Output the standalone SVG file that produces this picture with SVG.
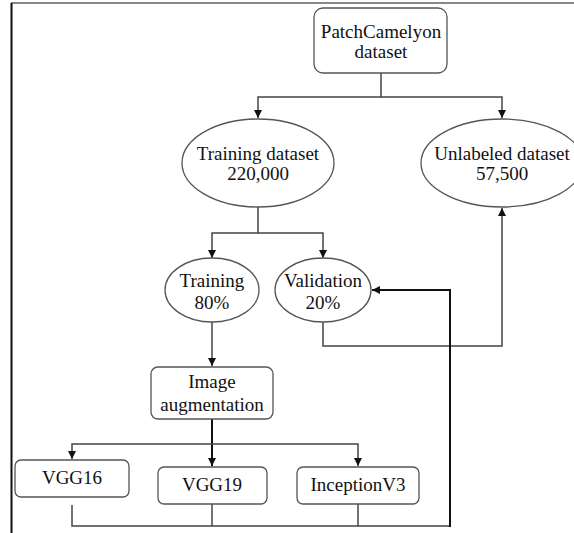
<svg xmlns="http://www.w3.org/2000/svg" width="574" height="533" viewBox="0 0 574 533">
  <defs>
    <marker id="arrow" viewBox="0 0 10 10" refX="10" refY="5" markerWidth="8" markerHeight="8" markerUnits="userSpaceOnUse" orient="auto">
      <path d="M0,0 L10,5 L0,10 Z" fill="#111"/>
    </marker>
    <clipPath id="page"><rect x="0" y="0" width="574" height="533"/></clipPath>
  </defs>
  <style>
    .box { fill: #fff; stroke: #555; stroke-width: 1.3; }
    .lbl { font-family: "Liberation Serif", "Times New Roman", serif; font-size: 19px; fill: #111; text-anchor: middle; }
    .edge { fill: none; stroke: #444; stroke-width: 1.5; }
    .edge-bold { fill: none; stroke: #111; stroke-width: 2; }
  </style>
  <rect x="0" y="0" width="574" height="533" fill="#fff"/>

  <!-- page frame -->
  <line x1="11" y1="3" x2="574" y2="3" stroke="#888" stroke-width="2"/>
  <line x1="11.5" y1="3" x2="11.5" y2="533" stroke="#111" stroke-width="2"/>

  <g id="connectors">
    <!-- dataset split -->
    <path class="edge" d="M381,73 V97 H258 V118" marker-end="url(#arrow)"/>
    <path class="edge" d="M381,97 H502 V118" marker-end="url(#arrow)"/>
    <!-- training / validation split -->
    <path class="edge" d="M258,207 V233 H212 V258" marker-end="url(#arrow)"/>
    <path class="edge" d="M258,233 H323 V258" marker-end="url(#arrow)"/>
    <!-- validation to unlabeled -->
    <path class="edge" d="M323,322 V346 H502 V208" marker-end="url(#arrow)"/>
    <!-- training to augmentation -->
    <path class="edge" d="M212,322 V366" marker-end="url(#arrow)"/>
    <!-- augmentation to models -->
    <path class="edge-bold" d="M212,419 V466" marker-end="url(#arrow)"/>
    <path class="edge" d="M212,444 H72 V459" marker-end="url(#arrow)"/>
    <path class="edge" d="M212,444 H358 V466" marker-end="url(#arrow)"/>
    <!-- models back to validation -->
    <path class="edge" d="M72,505 V526 H450"/>
    <path class="edge" d="M212,503 V526"/>
    <path class="edge" d="M358,503 V526"/>
    <path class="edge-bold" d="M450,527 V290 H372" marker-end="url(#arrow)"/>
  </g>

  <g id="patchcamelyon">
    <rect class="box" x="314" y="8" width="133" height="65" rx="9"/>
    <text class="lbl" x="381" y="38">PatchCamelyon</text>
    <text class="lbl" x="381" y="58">dataset</text>
  </g>

  <g id="training-dataset">
    <ellipse class="box" cx="258" cy="163" rx="76" ry="44"/>
    <text class="lbl" x="258" y="160">Training dataset</text>
    <text class="lbl" x="258" y="180">220,000</text>
  </g>

  <g id="unlabeled-dataset" clip-path="url(#page)">
    <ellipse class="box" cx="502" cy="163" rx="81" ry="44"/>
    <text class="lbl" x="502" y="160">Unlabeled dataset</text>
    <text class="lbl" x="502" y="180">57,500</text>
  </g>

  <g id="training">
    <ellipse class="box" cx="212" cy="290" rx="47" ry="32"/>
    <text class="lbl" x="212" y="287">Training</text>
    <text class="lbl" x="212" y="309">80%</text>
  </g>

  <g id="validation">
    <ellipse class="box" cx="323" cy="290" rx="48" ry="32"/>
    <text class="lbl" x="323" y="287">Validation</text>
    <text class="lbl" x="323" y="309">20%</text>
  </g>

  <g id="image-augmentation">
    <rect class="box" x="151" y="367" width="122" height="52" rx="7"/>
    <text class="lbl" x="212" y="388">Image</text>
    <text class="lbl" x="212" y="411">augmentation</text>
  </g>

  <g id="vgg16">
    <rect class="box" x="15" y="460" width="114" height="37" rx="6"/>
    <text class="lbl" x="72" y="484">VGG16</text>
  </g>

  <g id="vgg19">
    <rect class="box" x="158" y="467" width="109" height="37" rx="6"/>
    <text class="lbl" x="212" y="491">VGG19</text>
  </g>

  <g id="inceptionv3">
    <rect class="box" x="297" y="467" width="122" height="37" rx="6"/>
    <text class="lbl" x="358" y="491">InceptionV3</text>
  </g>
</svg>
